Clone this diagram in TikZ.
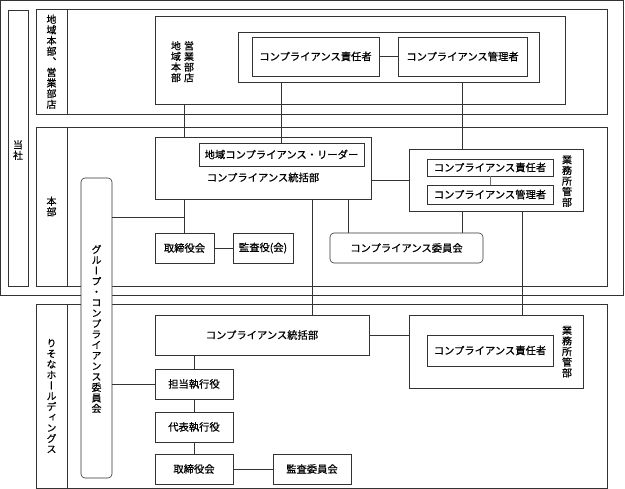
\documentclass[tikz,border=0pt]{standalone}
\usepackage{fontspec}
\newfontfamily\jp[FakeBold=0.6]{Noto Sans CJK JP}
\newfontfamily\jpv[RawFeature=+vert, FakeBold=0.6]{Noto Sans CJK JP}
\usetikzlibrary{positioning, calc}
\tikzset{
    orgBox/.style={rectangle, draw=black!80, fill=white, line width=0.6pt, inner sep=0pt, font=\jp\fontsize{10.3}{12}\selectfont},
    orgRound/.style={orgBox, rounded corners=4pt},
    orgFrame/.style={draw=black!80, line width=0.6pt},
    orgLine/.style={draw=black!80, line width=0.6pt},
    orgText/.style={inner sep=0pt, font=\jp\fontsize{10.3}{12}\selectfont},
    tateText/.style={align=center, inner sep=0pt, font=\jpv\fontsize{10}{10.6}\selectfont},
}
\newcommand{\drawSection}[4]{
    \draw[orgFrame] (36,#1) rectangle (607,#2);
    \draw[orgFrame] (67,#1) -- (67,#2);
    \node[tateText] (#3) at (51.5,{(#1+#2)/2}) {#4};
}

\begin{document}
\begin{tikzpicture}[x=1pt, y=-1pt]
    \useasboundingbox (0,0) rectangle (625,489);

    % company frame
    \draw[orgFrame] (0.5,0.5) rectangle (623,295);
    \draw[orgFrame] (8,10) rectangle (28,286);
    \node[tateText] (lblSha) at (18,150) {当\\社};

    \drawSection{9.5}{114}{lblChiiki}{地\\域\\本\\部\\、\\営\\業\\部\\店}
    \drawSection{127}{286}{lblHonbu}{本\\部}
    \drawSection{304}{488}{lblHd}{り\\そ\\な\\ホ\\ー\\ル\\デ\\ィ\\ン\\グ\\ス}

    % regional offices
    \node[orgBox, minimum width=410pt, minimum height=88pt] (ten) at (360,60) {};
    \node[tateText, anchor=north] (lblEigyo) at (189,41) {営\\業\\部\\店};
    \node[tateText, anchor=north] (lblChiho) at (176,41) {地\\域\\本\\部};
    \node[orgBox, minimum width=301pt, minimum height=50pt] (tenIn) at (388.5,57) {};
    \node[orgBox, minimum width=127pt, minimum height=39pt] (tenSek) at (315.5,56.5) {コンプライアンス責任者};
    \node[orgBox, minimum width=129pt, minimum height=39pt] (tenKan) at (462.5,56.5) {コンプライアンス管理者};

    % head office
    \node[orgBox, minimum width=216pt, minimum height=62pt] (touk) at (263,168) {};
    \node[orgBox, minimum width=165pt, minimum height=23pt] (leader) at (281.5,154.5) {地域コンプライアンス・リーダー};
    \node[orgText] (lblTouk) at (263,177.5) {コンプライアンス統括部};
    \node[orgBox, minimum width=174pt, minimum height=62pt] (gyo) at (496,180) {};
    \node[orgBox, minimum width=126pt, minimum height=17pt] (gyoSek) at (490,167.5) {コンプライアンス責任者};
    \node[orgBox, minimum width=126pt, minimum height=19pt] (gyoKan) at (490,194.5) {コンプライアンス管理者};
    \node[tateText] (lblGyo) at (567,181) {業\\務\\所\\管\\部};
    \node[orgRound, minimum width=153pt, minimum height=30pt] (iinkai) at (406.5,248) {コンプライアンス委員会};
    \node[orgBox, minimum width=59pt, minimum height=30pt] (tori) at (184.5,248) {取締役会};
    \node[orgBox, minimum width=60pt, minimum height=30pt] (kansa) at (263,248) {監査役(会)};

    % holdings
    \node[orgBox, minimum width=214pt, minimum height=40pt] (hdTouk) at (262,335) {コンプライアンス統括部};
    \node[orgBox, minimum width=174pt, minimum height=73pt] (hdGyo) at (496,351.5) {};
    \node[orgBox, minimum width=126pt, minimum height=31pt] (hdGyoSek) at (490,350.5) {コンプライアンス責任者};
    \node[tateText] (lblHdGyo) at (567,351.5) {業\\務\\所\\管\\部};
    \node[orgBox, minimum width=78pt, minimum height=30pt] (tanto) at (194,384) {担当執行役};
    \node[orgBox, minimum width=78pt, minimum height=30pt] (daihyo) at (194,427) {代表執行役};
    \node[orgBox, minimum width=78pt, minimum height=30pt] (hdTori) at (194,469) {取締役会};
    \node[orgBox, minimum width=78pt, minimum height=30pt] (hdKansa) at (312,469) {監査委員会};

    % links
    \draw[orgLine] (tenSek) -- (tenKan);
    \draw[orgLine] (tori.north |- ten.south) -- (tori.north |- touk.north);
    \draw[orgLine] (leader.north |- tenIn.south) -- (leader.north);
    \draw[orgLine] (tenKan.south |- tenIn.south) -- (tenKan.south |- gyo.north);
    \draw[orgLine] (touk.east |- gyo.west) -- (gyo.west);
    \draw[orgLine, black!55] (gyoSek) -- (gyoKan);
    \draw[orgLine] (tori.north |- touk.south) -- (tori.north);
    \draw[orgLine] (tori) -- (kansa);
    \draw[orgLine] (348,0 |- touk.south) -- (348,0 |- iinkai.north);
    \draw[orgLine] (tenKan.south |- gyo.south) -- (tenKan.south |- iinkai.north);
    \draw[orgLine] (hdKansa.north |- touk.south) -- (hdKansa.north |- hdTouk.north);
    \draw[orgLine] (522,0 |- gyo.south) -- (522,0 |- hdGyo.north);
    \draw[orgLine] (hdTouk.east) -- (hdTouk.east -| hdGyo.west);
    \draw[orgLine] (tanto.north |- hdTouk.south) -- (tanto.north);
    \draw[orgLine] (tanto) -- (daihyo);
    \draw[orgLine] (daihyo) -- (hdTori);
    \draw[orgLine] (hdTori) -- (hdKansa);

    % group committee
    \node[orgRound, minimum width=31pt, minimum height=300pt] (group) at (96.5,328) {};
    \node[tateText] (lblGroup) at (96.5,329) {グ\\ル\\ー\\プ\\・\\コ\\ン\\プ\\ラ\\イ\\ア\\ン\\ス\\委\\員\\会};
    \draw[orgLine] (group.east |- 0,217) -- (tori.north |- 0,217);
    \draw[orgLine] (group.east |- tanto.west) -- (tanto.west);

\end{tikzpicture}
\end{document}
